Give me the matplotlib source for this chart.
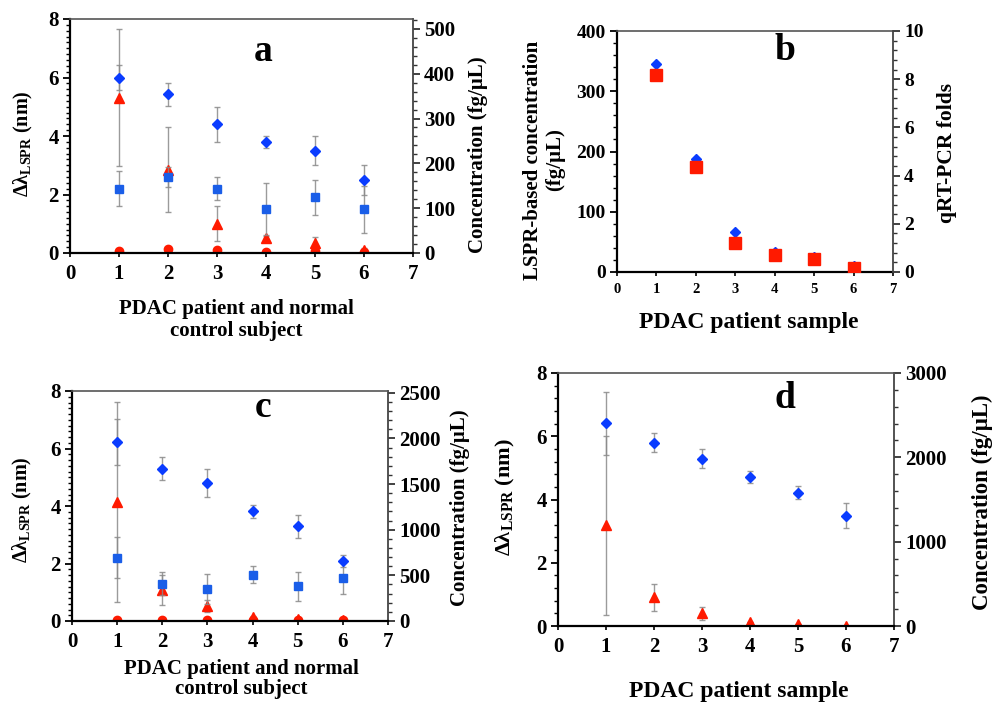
import matplotlib
matplotlib.use("Agg")
import matplotlib.pyplot as plt
from matplotlib.ticker import MultipleLocator

plt.rcParams['font.family'] = ['Liberation Serif', 'DejaVu Serif']
plt.rcParams['font.weight'] = 'bold'
plt.rcParams['mathtext.fontset'] = 'custom'
plt.rcParams['mathtext.rm'] = 'Liberation Serif:bold'
plt.rcParams['mathtext.it'] = 'Liberation Serif:bold'
plt.rcParams['mathtext.bf'] = 'Liberation Serif:bold'

# ---------------- data ----------------
x = [1, 2, 3, 4, 5, 6]

# panel a
a_diamond = [6.0, 5.42, 4.4, 3.8, 3.5, 2.5]
a_diamond_err = [0.42, 0.4, 0.6, 0.2, 0.5, 0.5]
a_square = [2.2, 2.6, 2.2, 1.5, 1.9, 1.5]
a_square_err = [0.6, 0.33, 0.4, 0.9, 0.6, 0.8]
a_triangle = [346, 186, 65, 33, 23, 7]          # concentration (fg/uL)
a_triangle_err = [153, 95, 39, 6, 13, 5]
a_circle = [5, 8, 6, 3, 5, 3]

# panel b
b_lspr = [346, 187, 66, 33, 25, 10]
b_qpcr = [8.17, 4.35, 1.22, 0.71, 0.56, 0.17]

# panel c
c_diamond = [6.23, 5.3, 4.81, 3.81, 3.3, 2.09]
c_diamond_err = [0.8, 0.4, 0.48, 0.22, 0.4, 0.2]
c_square = [2.2, 1.3, 1.1, 1.61, 1.21, 1.51]
c_square_err = [0.72, 0.4, 0.52, 0.3, 0.5, 0.56]
c_triangle = [1304, 337, 164, 44, 25, 13]
c_triangle_err = [1093, 164, 69, 15, 8, 5]
c_circle = [10, 9, 9, 12, 10, 9]

# panel d
d_diamond = [6.41, 5.8, 5.29, 4.71, 4.22, 3.49]
d_diamond_err = [1.0, 0.3, 0.3, 0.2, 0.2, 0.4]
d_triangle = [1192, 341, 150, 52, 22, 4]
d_triangle_err = [1058, 158, 79, 0, 0, 0]

BLUE = '#0a3cff'
BLUE_SQ = '#1a5ee8'
RED = '#ff1a00'
ERRC = '#8a8a8a'
W, H = 995, 702


def px_axes(l, r, t, b):
    return [l / W, 1 - b / H, (r - l) / W, (b - t) / H]


def style(ax, ax2, ylim, ylim2, ymaj, ymin, ymaj2, ymin2, ticksize, xticksize=None):
    if xticksize is None:
        xticksize = ticksize
    ax.set_xlim(0, 7)
    ax.set_ylim(*ylim)
    ax2.set_ylim(*ylim2)
    ax.xaxis.set_major_locator(MultipleLocator(1))
    ax.yaxis.set_major_locator(MultipleLocator(ymaj))
    ax.yaxis.set_minor_locator(MultipleLocator(ymin))
    ax2.yaxis.set_major_locator(MultipleLocator(ymaj2))
    ax2.yaxis.set_minor_locator(MultipleLocator(ymin2))
    for s in ['left', 'bottom']:
        ax.spines[s].set_color('black')
        ax.spines[s].set_linewidth(1.6)
    ax.spines['top'].set_color('#555555')
    ax.spines['top'].set_linewidth(1.2)
    ax.spines['right'].set_visible(False)
    for s in ['left', 'bottom', 'top']:
        ax2.spines[s].set_visible(False)
    ax2.spines['right'].set_color('#444444')
    ax2.spines['right'].set_linewidth(1.3)
    ax.tick_params(axis='y', which='major', direction='out', length=5, width=1.3, labelsize=ticksize, pad=3)
    ax.tick_params(axis='y', which='minor', direction='out', length=3, width=1.0)
    ax.tick_params(axis='x', which='major', direction='out', length=3, width=1.2, labelsize=xticksize, pad=5)
    ax2.tick_params(axis='y', which='major', direction='out', length=5, width=1.3, labelsize=ticksize, pad=3, colors='#333333', labelcolor='black')
    ax2.tick_params(axis='y', which='minor', direction='out', length=3, width=1.0, colors='#333333')
    for lab in ax.get_xticklabels() + ax.get_yticklabels() + ax2.get_yticklabels():
        lab.set_fontweight('bold')
    ax.set_zorder(ax2.get_zorder() + 1)
    ax.patch.set_visible(False)


def err(ax, xs, ys, es):
    ax.errorbar(xs, ys, yerr=es, fmt='none', ecolor=ERRC, elinewidth=1.0,
                capsize=2.5, capthick=1.0, alpha=0.85, zorder=2)


fig = plt.figure(figsize=(9.95, 7.02), dpi=100)

# ---------------- panel a ----------------
ax = fig.add_axes(px_axes(70, 413, 19, 253))
ax2 = ax.twinx()
style(ax, ax2, (0, 8), (0, 522), 2, 0.2, 100, 20, 15)
err(ax2, x, a_triangle, a_triangle_err)
err(ax, x, a_diamond, a_diamond_err)
err(ax, x, a_square, a_square_err)
ax2.plot(x, a_triangle, ls='none', marker='^', ms=7, color=RED, mec=RED, zorder=3)
ax2.plot(x, a_circle, ls='none', marker='o', ms=6, color=RED, mec=RED, zorder=3)
ax.plot(x, a_diamond, ls='none', marker='D', ms=5, color=BLUE, mec=BLUE, zorder=3)
ax.plot(x, a_square, ls='none', marker='s', ms=6, color=BLUE_SQ, mec=BLUE_SQ, zorder=3)
ax.text(0.563, 0.86, 'a', transform=ax.transAxes, fontsize=27, fontweight='bold', ha='center', va='center')
fig.text(23 / W, 1 - 144 / H, 'Δλ$_{\\mathrm{LSPR}}$ (nm)', rotation=90, ha='center', va='center', fontsize=14.5, fontweight='bold')
fig.text(478 / W, 1 - 155 / H, 'Concentration (fg/μL)', rotation=90, ha='center', va='center', fontsize=15, fontweight='bold')
fig.text(236 / W, 1 - 320 / H, 'PDAC patient and normal\ncontrol subject', ha='center', va='center', fontsize=15, fontweight='bold', linespacing=1.15)

# ---------------- panel b ----------------
ax = fig.add_axes(px_axes(617, 893, 31, 272))
ax2 = ax.twinx()
style(ax, ax2, (0, 400), (0, 10), 100, 20, 2, 0.4, 14, 10.5)
ax.plot(x, b_lspr, ls='none', marker='D', ms=5, color=BLUE, mec=BLUE, zorder=3)
ax2.plot(x, b_qpcr, ls='none', marker='s', ms=8, color=RED, mec=RED, zorder=3)
ax.set_zorder(0)
ax2.set_zorder(1)
ax.text(0.609, 0.92, 'b', transform=ax.transAxes, fontsize=27, fontweight='bold', ha='center', va='center')
fig.text(544 / W, 1 - 160 / H, 'LSPR-based concentration\n(fg/μL)', rotation=90, ha='center', va='center', fontsize=15, fontweight='bold', linespacing=1.2)
fig.text(947 / W, 1 - 153 / H, 'qRT-PCR folds', rotation=90, ha='center', va='center', fontsize=15.5, fontweight='bold')
fig.text(749 / W, 1 - 322 / H, 'PDAC patient sample', ha='center', va='center', fontsize=17, fontweight='bold')

# ---------------- panel c ----------------
ax = fig.add_axes(px_axes(72, 388, 391, 621))
ax2 = ax.twinx()
style(ax, ax2, (0, 8), (0, 2520), 2, 0.2, 500, 100, 15)
err(ax2, x, c_triangle, c_triangle_err)
err(ax, x, c_diamond, c_diamond_err)
err(ax, x, c_square, c_square_err)
ax2.plot(x, c_triangle, ls='none', marker='^', ms=7, color=RED, mec=RED, zorder=3)
ax2.plot(x, c_circle, ls='none', marker='o', ms=6, color=RED, mec=RED, zorder=3)
ax.plot(x, c_diamond, ls='none', marker='D', ms=5, color=BLUE, mec=BLUE, zorder=3)
ax.plot(x, c_square, ls='none', marker='s', ms=6, color=BLUE_SQ, mec=BLUE_SQ, zorder=3)
ax.text(0.604, 0.93, 'c', transform=ax.transAxes, fontsize=27, fontweight='bold', ha='center', va='center')
fig.text(22 / W, 1 - 510 / H, 'Δλ$_{\\mathrm{LSPR}}$ (nm)', rotation=90, ha='center', va='center', fontsize=14.5, fontweight='bold')
fig.text(460 / W, 1 - 508 / H, 'Concentration (fg/μL)', rotation=90, ha='center', va='center', fontsize=15, fontweight='bold')
fig.text(241 / W, 1 - 679 / H, 'PDAC patient and normal\ncontrol subject', ha='center', va='center', fontsize=15, fontweight='bold', linespacing=1.05)

# ---------------- panel d ----------------
ax = fig.add_axes(px_axes(558, 894, 373, 626))
ax2 = ax.twinx()
style(ax, ax2, (0, 8), (0, 3000), 2, 0.4, 1000, 200, 15)
err(ax2, x, d_triangle, d_triangle_err)
err(ax, x, d_diamond, d_diamond_err)
ax2.plot(x, d_triangle, ls='none', marker='^', ms=7, color=RED, mec=RED, zorder=3)
ax.plot(x, d_diamond, ls='none', marker='D', ms=5, color=BLUE, mec=BLUE, zorder=3)
ax.text(0.676, 0.90, 'd', transform=ax.transAxes, fontsize=27, fontweight='bold', ha='center', va='center')
fig.text(505 / W, 1 - 497 / H, 'Δλ$_{\\mathrm{LSPR}}$ (nm)', rotation=90, ha='center', va='center', fontsize=16, fontweight='bold')
fig.text(982 / W, 1 - 502 / H, 'Concentration (fg/μL)', rotation=90, ha='center', va='center', fontsize=16.5, fontweight='bold')
fig.text(739 / W, 1 - 691 / H, 'PDAC patient sample', ha='center', va='center', fontsize=17, fontweight='bold')

fig.savefig('out.png', dpi=100)
